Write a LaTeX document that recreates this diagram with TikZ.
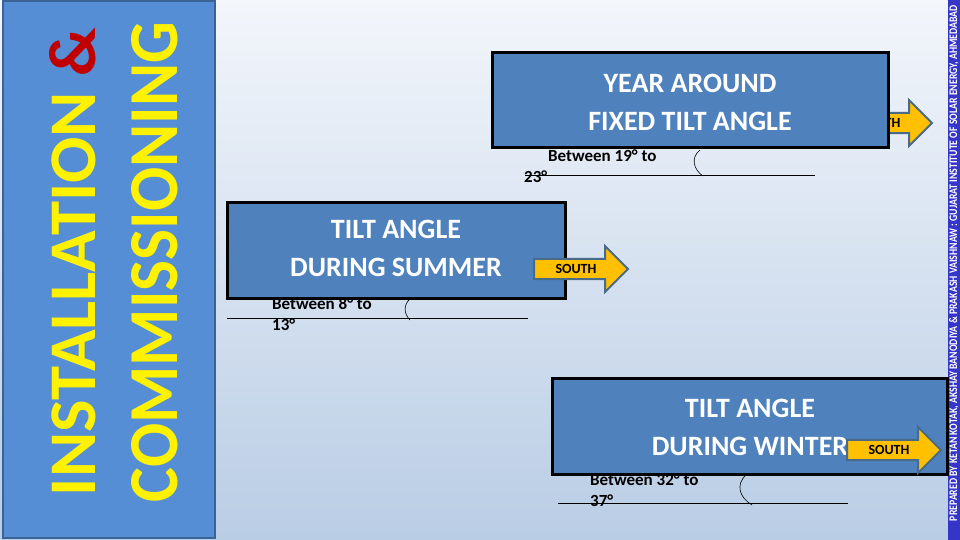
\documentclass[tikz,border=0pt]{standalone}
\usepackage{fontspec}
\setmainfont{Carlito}
\usetikzlibrary{shapes.arrows}
\definecolor{bgtop}{HTML}{F3F6FB}
\definecolor{bgbot}{HTML}{B9CDE5}
\definecolor{banner}{HTML}{558ED5}
\definecolor{boxblue}{HTML}{4F81BD}
\definecolor{arrowy}{HTML}{FFC000}
\definecolor{arrowb}{HTML}{4A6A8A}
\definecolor{strip}{HTML}{3535C8}
\definecolor{ampred}{HTML}{C00000}
\tikzset{
  tiltbox/.style={draw=black, line width=3pt, fill=boxblue},
  boxtext/.style={text=white, font=\bfseries\fontsize{28}{38}\selectfont, align=center},
  southarrow/.style={single arrow, draw=arrowb, line width=2pt, fill=arrowy,
     minimum height=94pt, minimum width=46pt, single arrow head extend=11pt,
     single arrow head indent=0pt, inner sep=3pt, font=\bfseries\fontsize{14}{14}\selectfont, text=black},
  betw/.style={font=\bfseries\fontsize{17}{21}\selectfont, align=left, anchor=north west, inner sep=0pt},
  base/.style={line width=0.6pt}
}
\begin{document}
\begin{tikzpicture}[x=1pt,y=-1pt]
\useasboundingbox (0,0) rectangle (960,540);
\shade[top color=bgtop, bottom color=bgbot] (0,0) rectangle (960,540);
% left banner
\draw[fill=banner, draw=banner!70!black, line width=1.5pt] (3,1) rectangle (215,538);
\node[rotate=90, text=yellow] (l1) at (73,262) {\resizebox{468pt}{46pt}{\bfseries INSTALLATION \textcolor{ampred}{\&}}};
\node[rotate=90, text=yellow] (l2) at (155,262) {\resizebox{480pt}{46pt}{\bfseries COMMISSIONING}};
% right strip
\fill[strip] (948,0) rectangle (960,540);
\node[rotate=90, text=white] (credit) at (954,263) {\resizebox{516pt}{8pt}{\bfseries PREPARED BY KETAN KOTAK, AKSHAY BANODIYA \& PRAKASH VAISHNAW : GUJARAT INSTITUTE OF SOLAR ENERGY, AHMEDABAD}};
% top
\node[southarrow] (a1) at (880,123) {SOUTH};
\draw[tiltbox] (492,53) rectangle (888,148);
\node[boxtext] (t1) at (690,102) {YEAR AROUND\\FIXED TILT ANGLE};
\node[betw] (b1) at (548,150) {Between 19° to\\\hspace*{-24pt}23°};
\coordinate (l1a) at (525,175); \coordinate (l1b) at (815,175);
\draw[base] (l1a) -- (l1b);
\coordinate (c1t) at (700,150); \coordinate (c1b) at (703,176);
\draw[base] (c1t) .. controls (690,158) and (694,170) .. (c1b);
% summer
\draw[tiltbox] (227,202) rectangle (565,298);
\node[boxtext] (t2) at (396,248) {TILT ANGLE\\DURING SUMMER};
\node[southarrow] (a2) at (576,269) {SOUTH};
\node[betw] (b2) at (272,298) {Between 8° to\\13°};
\coordinate (l2a) at (227,318); \coordinate (l2b) at (528,318);
\draw[base] (l2a) -- (l2b);
\coordinate (c2t) at (410,299); \coordinate (c2b) at (410,320);
\draw[base] (c2t) .. controls (403,305) and (404,314) .. (c2b);
% winter
\draw[tiltbox] (552,378) rectangle (947,474);
\node[boxtext] (t3) at (750,427) {TILT ANGLE\\DURING WINTER};
\node[southarrow] (a3) at (889,450) {SOUTH};
\node[betw] (b3) at (590,474) {Between 32° to\\37°};
\coordinate (l3a) at (558,503); \coordinate (l3b) at (848,503);
\draw[base] (l3a) -- (l3b);
\coordinate (c3t) at (746,475); \coordinate (c3b) at (752,505);
\draw[base] (c3t) .. controls (735,485) and (740,498) .. (c3b);
\end{tikzpicture}
\end{document}
